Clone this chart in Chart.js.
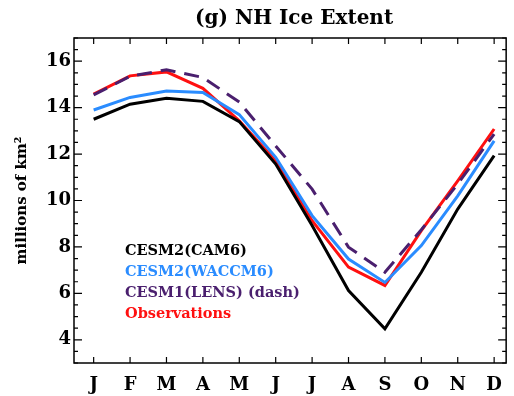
<!DOCTYPE html>
<html>
<head>
<meta charset="utf-8">
<script src="https://cdn.jsdelivr.net/npm/chart.js@4"></script>
<style>
  html, body { margin: 0; padding: 0; background: #fff; }
  #wrap { width: 514px; height: 396px; }
</style>
</head>
<body>
<div id="wrap"><canvas id="myChart" width="514" height="396"></canvas></div>
<script>
// month labels along the bottom
const monthLabels = ["J", "F", "M", "A", "M", "J", "J", "A", "S", "O", "N", "D"]
const months = [1, 2, 3, 4, 5, 6, 7, 8, 9, 10, 11, 12]
const yTicks = [4, 6, 8, 10, 12, 14, 16]

// sea ice extent, millions of km2
const cam6   = [13.5, 14.15, 14.4, 14.27, 13.4, 11.57, 8.92, 6.12, 4.47, 6.91, 9.63, 11.93]
const waccm6 = [13.9, 14.44, 14.72, 14.65, 13.7, 11.86, 9.35, 7.48, 6.47, 8.06, 10.2, 12.57]
const lens   = [14.55, 15.35, 15.63, 15.3, 14.24, 12.35, 10.49, 7.99, 6.91, 8.74, 10.71, 12.86]
const obs    = [14.58, 15.37, 15.54, 14.83, 13.43, 11.71, 9.13, 7.13, 6.34, 8.7, 10.85, 13.08]

const FONT = "'DejaVu Serif', 'Liberation Serif', serif"

function toPoints(values) {
    return values.map((v, i) => ({x: months[i], y: v}))
}

// box, inward ticks, minor ticks, title and text legend
const framePlugin = {
    id: "frame",
    afterDraw(chart) {
        const ctx = chart.ctx
        const area = chart.chartArea
        const xs = chart.scales.x
        const ys = chart.scales.y
        ctx.save()
        ctx.strokeStyle = "#000"
        ctx.lineWidth = 1.5
        ctx.strokeRect(area.left, area.top, area.right - area.left, area.bottom - area.top)

        ctx.lineWidth = 1.2
        ctx.beginPath()
        months.forEach(m => {
            const px = xs.getPixelForValue(m)
            ctx.moveTo(px, area.bottom); ctx.lineTo(px, area.bottom - 6)
            ctx.moveTo(px, area.top); ctx.lineTo(px, area.top + 6)
        })
        for (let v = ys.min; v <= ys.max + 0.001; v += 0.5) {
            const py = ys.getPixelForValue(v)
            const len = (v % 2 === 0) ? 8 : 4
            ctx.moveTo(area.left, py); ctx.lineTo(area.left + len, py)
            ctx.moveTo(area.right, py); ctx.lineTo(area.right - len, py)
        }
        ctx.stroke()

        // title
        ctx.fillStyle = "#000"
        ctx.font = "bold 20px " + FONT
        ctx.textAlign = "center"
        ctx.textBaseline = "middle"
        ctx.fillText("(g) NH Ice Extent", (area.left + area.right) / 2 + 4, 19)

        // legend as coloured text
        ctx.font = "bold 14.5px " + FONT
        ctx.textAlign = "left"
        chart.data.datasets.forEach((ds, i) => {
            ctx.fillStyle = ds.textColor
            ctx.fillText(ds.legendText, 125, 251 + i * 21)
        })
        ctx.restore()
    }
}

const ctx = document.getElementById("myChart")

new Chart(ctx, {
    type: "line",
    data: {
        datasets: [{
            label: "CESM2(CAM6)",
            legendText: "CESM2(CAM6)",
            textColor: "#000000",
            data: toPoints(cam6),
            borderColor: "#000000",
            borderWidth: 3
        }, {
            label: "CESM2(WACCM6)",
            legendText: "CESM2(WACCM6)",
            textColor: "#2a8cff",
            data: toPoints(waccm6),
            borderColor: "#2a8cff",
            borderWidth: 3
        }, {
            label: "CESM1(LENS)",
            legendText: "CESM1(LENS) (dash)",
            textColor: "#4a1f6e",
            data: toPoints(lens),
            borderColor: "#4a1f6e",
            borderWidth: 3,
            borderDash: [15, 9]
        }, {
            label: "Observations",
            legendText: "Observations",
            textColor: "#ff1010",
            data: toPoints(obs),
            borderColor: "#ff1010",
            borderWidth: 3
        }]
    },
    options: {
        responsive: false,
        animation: false,
        layout: {padding: {top: 38, right: 2, left: 0, bottom: 0}},
        elements: {
            point: {radius: 0},
            line: {tension: 0, fill: false}
        },
        plugins: {
            legend: {display: false},
            tooltip: {enabled: false}
        },
        scales: {
            x: {
                type: "linear",
                min: 0.46,
                max: 12.33,
                afterBuildTicks: scale => {
                    scale.ticks = months.map(m => ({value: m}))
                },
                afterFit: scale => { scale.height = 33 },
                grid: {display: false, drawTicks: false},
                border: {display: false},
                ticks: {
                    color: "#000",
                    padding: 12,
                    maxRotation: 0,
                    autoSkip: false,
                    font: {family: FONT, weight: "bold", size: 18},
                    callback: v => monthLabels[v - 1]
                }
            },
            y: {
                min: 3,
                max: 17,
                afterBuildTicks: scale => {
                    scale.ticks = yTicks.map(v => ({value: v}))
                },
                afterFit: scale => { scale.width = 74 },
                grid: {display: false, drawTicks: false},
                border: {display: false},
                title: {
                    display: true,
                    text: "millions of km²",
                    color: "#000",
                    padding: {top: 13, bottom: 0},
                    font: {family: FONT, weight: "bold", size: 15}
                },
                ticks: {
                    color: "#000",
                    padding: 3,
                    font: {family: FONT, weight: "bold", size: 18}
                }
            }
        }
    },
    plugins: [framePlugin]
})
</script>
</body>
</html>
